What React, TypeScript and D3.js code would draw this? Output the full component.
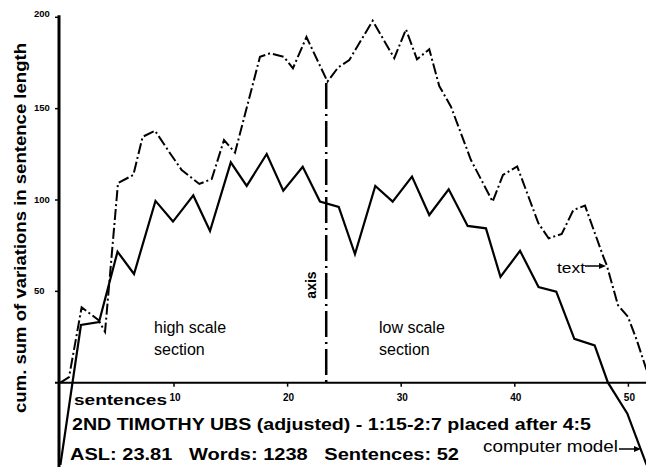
import React from "react";
import * as d3 from "d3";

// sentence position / cumulative sum
const modelX = [0, 1.81, 3.4, 5.03, 6.48, 8.37, 9.91, 11.7, 13.17, 15, 16.4, 18.16, 19.62, 21.33, 22.85, 24.5, 25.93, 27.72, 29.25, 30.95, 32.47, 34.18, 35.85, 37.46, 38.74, 40.46, 42.09, 43.65, 45.24, 47.03, 48.2, 49.9, 51.6];
const modelY = [-45, 31.6, 33.2, 71.7, 59.5, 99.5, 88.2, 102.5, 83, 120.6, 107.7, 125.2, 105.1, 118.2, 99.2, 96.2, 70.4, 107.7, 99.1, 112.8, 91.8, 105.9, 85.8, 84.5, 57.9, 72.2, 52.4, 49.8, 24, 20.4, 0, -16.8, -45];

const textX = [0, 0.76, 1.87, 3.34, 3.93, 5.07, 6.42, 7.24, 8.33, 9.65, 10.68, 12.23, 13.32, 14.4, 15.37, 17.57, 18.45, 19.68, 20.47, 21.66, 23.51, 24.44, 25.43, 27.49, 29.39, 30.42, 31.39, 32.47, 33.35, 34.38, 36.14, 38.05, 38.96, 40.21, 42.07, 42.98, 44.13, 45.15, 46.18, 47.79, 48.09, 49.08, 49.96, 50.73, 51.6];
const textY = [0, 3, 41.3, 34.3, 27.9, 109.3, 113.7, 134.6, 137.9, 125.6, 116.4, 108.8, 111.5, 132.8, 125.9, 178.4, 180.3, 178.3, 172.1, 189.2, 164.8, 172.5, 176.6, 198.1, 177.6, 193.4, 177, 182.5, 162.4, 151.1, 121.9, 99.1, 113.7, 118.4, 87.4, 79, 81.4, 94.5, 96.9, 69, 64.4, 42.5, 36.1, 23.4, 7];

const xTicks = [10, 20, 30, 40, 50];
const yTicks = [50, 100, 150, 200];
const axisAt = 23.4;
const axisTop = 164;

const font = "'Liberation Sans', Arial, Helvetica, sans-serif";

export default function App() {
  const width = 646;
  const height = 467;

  const x = d3.scaleLinear().domain([0, 50]).range([60.4, 628.4]);
  const y = d3.scaleLinear().domain([0, 200]).range([382.7, 17.3]);

  const model = modelX.map((s, i) => [x(s), y(modelY[i])] as [number, number]);
  const text = textX.map((s, i) => [x(s), y(textY[i])] as [number, number]);
  const path = d3.line();

  return (
    <div style={{ position: "absolute", left: 0, top: 0 }}>
      <svg width={width} height={height} style={{ display: "block", background: "#fff" }}>
        <defs>
          <clipPath id="plot">
            <rect x={0} y={0} width={width} height={height} />
          </clipPath>
        </defs>

        {/* y axis */}
        <line x1={59} x2={59} y1={y(200) - 2} y2={467} stroke="#000" strokeWidth={3} />
        {yTicks.map((t) => (
          <g key={t}>
            <line x1={55} x2={59} y1={y(t)} y2={y(t)} stroke="#000" strokeWidth={1.5} />
            <text
              x={34}
              y={y(t) - (t === 200 ? 3 : 0)}
              dominantBaseline="middle"
              fontFamily={font}
              fontWeight="bold"
              fontSize={9.5}
            >
              {t}
            </text>
          </g>
        ))}

        {/* x axis */}
        <line x1={55} x2={646} y1={y(0)} y2={y(0)} stroke="#000" strokeWidth={2} />
        {xTicks.map((t) => (
          <g key={t}>
            <line x1={x(t)} x2={x(t)} y1={y(0)} y2={y(0) + 4} stroke="#000" strokeWidth={1.5} />
            <text
              x={x(t) + 1}
              y={y(0) + 18}
              textAnchor="middle"
              fontFamily={font}
              fontWeight="bold"
              fontSize={10}
            >
              {t}
            </text>
          </g>
        ))}

        {/* axis marker */}
        <line
          x1={x(axisAt)}
          x2={x(axisAt)}
          y1={y(axisTop)}
          y2={y(0)}
          stroke="#000"
          strokeWidth={2.5}
          strokeDasharray="26 5 2 5"
        />

        <g clipPath="url(#plot)">
          <path d={path(text) || ""} fill="none" stroke="#000" strokeWidth={2} strokeDasharray="11 3 2 3" />
          <path d={path(model) || ""} fill="none" stroke="#000" strokeWidth={2.2} />
        </g>

        {/* labels */}
        <text
          transform="translate(26,228) rotate(-90)"
          textAnchor="middle"
          fontFamily={font}
          fontWeight="bold"
          fontSize={16}
          textLength={370}
          lengthAdjust="spacingAndGlyphs"
        >
          cum. sum of variations in sentence length
        </text>
        <text
          transform="translate(316,285) rotate(-90)"
          textAnchor="middle"
          fontFamily={font}
          fontWeight="bold"
          fontSize={14}
        >
          axis
        </text>

        <text x={154} y={333} fontFamily={font} fontSize={16}>high scale</text>
        <text x={154} y={355} fontFamily={font} fontSize={16}>section</text>
        <text x={379} y={333} fontFamily={font} fontSize={16}>low scale</text>
        <text x={379} y={355} fontFamily={font} fontSize={16}>section</text>

        <text x={74} y={405} fontFamily={font} fontWeight="bold" fontSize={15} textLength={93} lengthAdjust="spacingAndGlyphs">
          sentences
        </text>
        <text
          x={72}
          y={430}
          fontFamily={font}
          fontWeight="bold"
          fontSize={16}
          textLength={519}
          lengthAdjust="spacingAndGlyphs"
        >
          2ND TIMOTHY UBS (adjusted) - 1:15-2:7 placed after 4:5
        </text>
        <text
          x={70}
          y={460}
          fontFamily={font}
          fontWeight="bold"
          fontSize={17}
          textLength={389}
          lengthAdjust="spacingAndGlyphs"
          style={{ whiteSpace: "pre" }}
        >
          {"ASL: 23.81   Words: 1238   Sentences: 52"}
        </text>

        <text x={483} y={452} fontFamily={font} fontSize={16} textLength={135} lengthAdjust="spacingAndGlyphs">
          computer model
        </text>
        <line x1={619} x2={637} y1={449} y2={449} stroke="#000" strokeWidth={1.5} />
        <path d="M641,449 L634,446 L634,452 Z" fill="#000" />

        <text x={557} y={273} fontFamily={font} fontSize={15} textLength={28} lengthAdjust="spacingAndGlyphs">
          text
        </text>
        <line x1={585} x2={602} y1={266} y2={266} stroke="#000" strokeWidth={1.5} />
        <path d="M606,266 L599,263 L599,269 Z" fill="#000" />
      </svg>
    </div>
  );
}
